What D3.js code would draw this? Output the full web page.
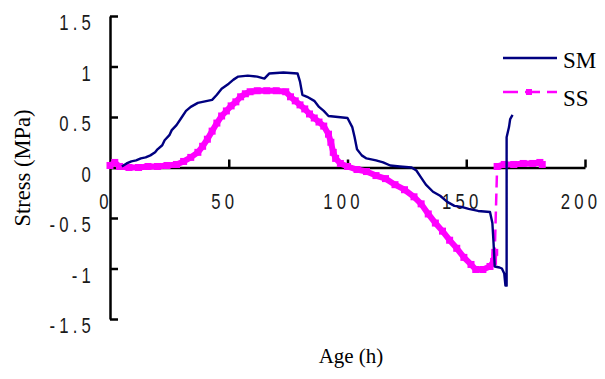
<!DOCTYPE html>
<html>
<head>
<meta charset="utf-8">
<script src="https://cdn.jsdelivr.net/npm/d3@7"></script>
<style>
  body { margin: 0; background: #fff; }
  .tick-label { font-family: "Liberation Sans", Arial, sans-serif; font-size: 22px; letter-spacing: 5.5px; fill: #1a1a1a; }
  .title { font-family: "Liberation Serif", "Times New Roman", serif; fill: #000; }
</style>
</head>
<body>
<svg id="chart" width="605" height="379"></svg>
<script>
// Age (h) vs stress (MPa).
const smData = [
  [5, 0.01], [7, 0.04], [9, 0.06], [11, 0.07], [13, 0.09], [15, 0.1], [17, 0.12],
  [19, 0.15], [20, 0.18], [22, 0.22], [23, 0.27], [25, 0.32], [26, 0.37], [28, 0.42],
  [30, 0.49], [32, 0.56], [34, 0.6], [37, 0.64], [41, 0.66], [43, 0.67], [45, 0.72],
  [47, 0.78], [50, 0.83], [52, 0.87], [54, 0.9], [58, 0.91], [62, 0.9], [65, 0.88],
  [67, 0.93], [73, 0.94], [79, 0.93], [80, 0.85], [81, 0.72], [83, 0.7], [86, 0.66],
  [88, 0.6], [90, 0.56], [92, 0.51], [96, 0.5], [100, 0.49], [102, 0.4], [103, 0.3],
  [104, 0.18], [106, 0.12], [108, 0.09], [112, 0.07], [115, 0.05], [118, 0.02],
  [122, 0.01], [127, 0.0], [129, -0.03], [131, -0.1], [133, -0.17], [136, -0.24],
  [139, -0.28], [142, -0.34], [145, -0.38], [148, -0.39], [151, -0.41], [155, -0.43],
  [160, -0.44], [161, -0.55], [161.5, -0.75], [162, -0.98], [164, -0.99], [165, -1.0],
  [166, -1.05], [166.5, -1.17], [167, -1.17], [167, 0.3], [168, 0.4], [168.5, 0.48],
  [169.5, 0.52]
];

// SS before and after the sudden jump back to zero
const ssBefore = [
  [0, 0.02], [2, 0.05], [4, 0.01], [8, 0.0], [12, 0.0], [16, 0.01], [20, 0.01],
  [24, 0.02], [28, 0.03], [31, 0.06], [34, 0.1], [37, 0.15], [39, 0.21], [41, 0.28],
  [43, 0.36], [45, 0.44], [47, 0.51], [49, 0.56], [51, 0.61], [53, 0.65], [55, 0.7],
  [57, 0.73], [59, 0.75], [62, 0.76], [66, 0.76], [70, 0.76], [74, 0.75], [76, 0.7],
  [78, 0.66], [80, 0.62], [82, 0.58], [84, 0.53], [86, 0.49], [88, 0.45], [90, 0.41],
  [92, 0.33], [93, 0.25], [94, 0.15], [95, 0.09], [97, 0.04], [100, 0.01], [104, -0.02],
  [108, -0.04], [112, -0.08], [116, -0.11], [120, -0.17], [124, -0.22], [128, -0.29],
  [131, -0.36], [134, -0.46], [137, -0.55], [140, -0.63], [143, -0.72], [146, -0.8],
  [149, -0.89], [152, -0.96], [154, -1.01], [157, -1.01], [160, -0.98], [161.5, -0.93],
  [162, -0.84]
];
const ssAfter = [
  [163, 0.01], [166, 0.03], [170, 0.03], [174, 0.04], [178, 0.04], [181, 0.05], [182, 0.03]
];

const xTicks = [0, 50, 100, 150, 200];
const yTicks = [-1.5, -1, -0.5, 0, 0.5, 1, 1.5];
const yTickText = ["-1.5", "-1", "-0.5", "0", "0.5", "1", "1.5"];
const seriesNames = ["SM", "SS"];

const smColor = "#000080", ssColor = "#ff00ff";
const squeeze = 0.76; // tick labels use a narrow face

const svg = d3.select("#chart");

const x = d3.scaleLinear().domain([0, 200]).range([110, 585]);
const y = d3.scaleLinear().domain([-1.5, 1.5]).range([319, 16]);

// Y axis (ticks point right, labels drawn separately)
const yAxis = svg.append("g")
  .attr("transform", `translate(${x(0)},0)`)
  .call(d3.axisRight(y).tickValues(yTicks).tickSize(8).tickSizeOuter(0).tickFormat(""));
yAxis.select(".domain").attr("stroke", "#000").attr("stroke-width", 2.5);
yAxis.selectAll(".tick line").attr("stroke", "#000").attr("stroke-width", 2.5);

svg.append("g").selectAll("text")
  .data(yTicks)
  .join("text")
  .attr("class", "tick-label")
  .attr("transform", d => `translate(95,${y(d) + 14}) scale(${squeeze},1)`)
  .attr("text-anchor", "end")
  .text((d, i) => yTickText[i]);

// X axis along zero stress, ticks point up
const xAxis = svg.append("g")
  .attr("transform", `translate(0,${y(0)})`)
  .call(d3.axisTop(x).tickValues(xTicks.slice(1)).tickSize(8).tickSizeOuter(0).tickFormat(""));
xAxis.select(".domain").attr("stroke", "#000").attr("stroke-width", 2.5);
xAxis.selectAll(".tick line").attr("stroke", "#000").attr("stroke-width", 2.5);

svg.append("g").selectAll("text")
  .data(xTicks)
  .join("text")
  .attr("class", "tick-label")
  .attr("transform", d => `translate(${x(d) - 4},209) scale(${squeeze},1)`)
  .attr("text-anchor", "middle")
  .text(d => d);

const line = d3.line().x(d => x(d[0])).y(d => y(d[1]));

// SS: dense markers form a thick band, dashed connector shows through the gap
[ssBefore, ssAfter].forEach(part => {
  svg.append("path")
    .datum(part)
    .attr("d", line)
    .attr("fill", "none")
    .attr("stroke", ssColor)
    .attr("stroke-width", 6)
    .attr("stroke-linejoin", "round");
  svg.append("g").selectAll("rect")
    .data(part)
    .join("rect")
    .attr("x", d => x(d[0]) - 3.5)
    .attr("y", d => y(d[1]) - 3.5)
    .attr("width", 7)
    .attr("height", 7)
    .attr("fill", ssColor);
});
svg.append("path")
  .datum(ssBefore.concat(ssAfter))
  .attr("d", line)
  .attr("fill", "none")
  .attr("stroke", ssColor)
  .attr("stroke-width", 2.5)
  .attr("stroke-dasharray", "12,6");

// SM
svg.append("path")
  .datum(smData)
  .attr("d", line)
  .attr("fill", "none")
  .attr("stroke", smColor)
  .attr("stroke-width", 2.4)
  .attr("stroke-linejoin", "round");

// Legend
const legend = svg.append("g");
legend.append("line")
  .attr("x1", 503).attr("x2", 557).attr("y1", 58).attr("y2", 58)
  .attr("stroke", smColor).attr("stroke-width", 2.5);
legend.append("line")
  .attr("x1", 503).attr("x2", 557).attr("y1", 92).attr("y2", 92)
  .attr("stroke", ssColor).attr("stroke-width", 2.5).attr("stroke-dasharray", "15,7");
legend.append("rect")
  .attr("x", 526).attr("y", 89).attr("width", 6).attr("height", 6)
  .attr("fill", ssColor);
legend.selectAll("text")
  .data(seriesNames)
  .join("text")
  .attr("class", "title")
  .attr("font-size", 23)
  .attr("x", 563)
  .attr("y", (d, i) => 68 + i * 38)
  .text(d => d);

// Axis titles
svg.append("text")
  .attr("class", "title")
  .attr("font-size", 21)
  .attr("x", 351)
  .attr("y", 363)
  .attr("text-anchor", "middle")
  .text("Age (h)");

svg.append("text")
  .attr("class", "title")
  .attr("font-size", 22.5)
  .attr("transform", "translate(30,168) rotate(-90)")
  .attr("text-anchor", "middle")
  .text("Stress (MPa)");
</script>
</body>
</html>
